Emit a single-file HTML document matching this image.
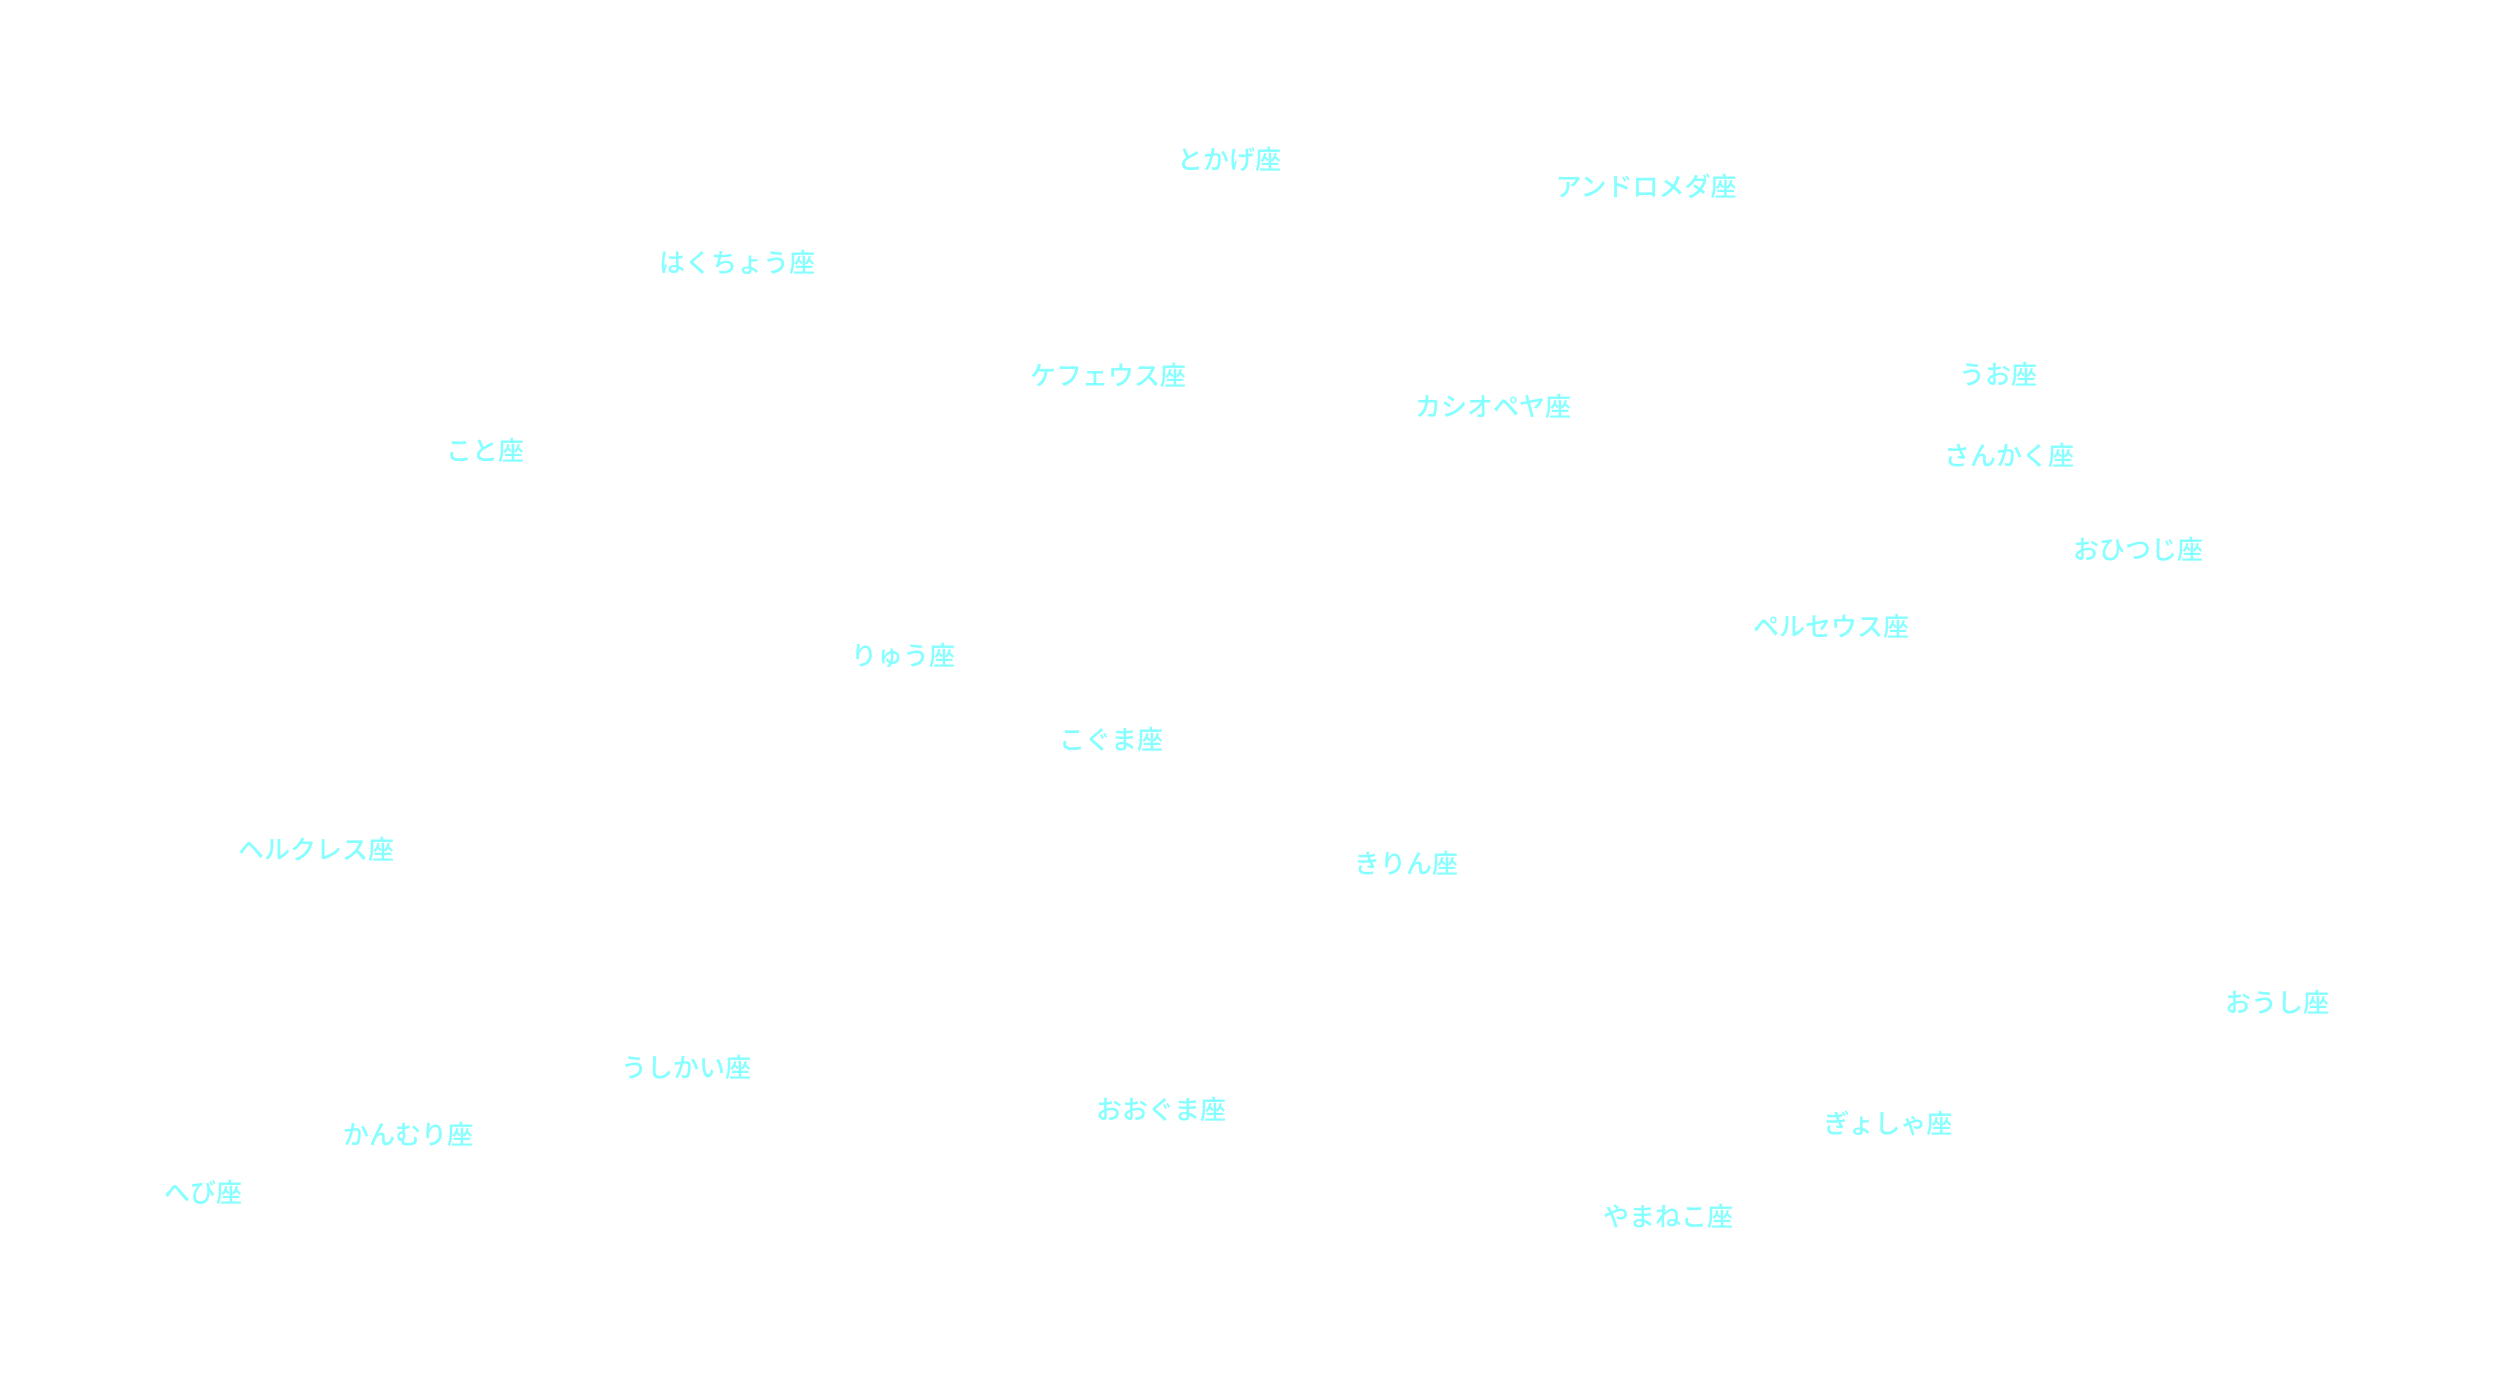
<!DOCTYPE html>
<html><head><meta charset="utf-8"><style>
html,body{margin:0;padding:0;background:#fff;}
body{width:2500px;height:1400px;position:relative;overflow:hidden;font-family:"Liberation Sans","Noto Sans CJK JP",sans-serif;}
span{position:absolute;transform:translate(-50%,-50%);font-size:26px;color:#85ffff;white-space:nowrap;line-height:1;font-weight:500;}
</style></head><body>
<span style="left:1229px;top:160px">とかげ座</span>
<span style="left:1646px;top:187px">アンドロメダ座</span>
<span style="left:737px;top:263px">はくちょう座</span>
<span style="left:1108px;top:376px">ケフェウス座</span>
<span style="left:1493px;top:407px">カシオペヤ座</span>
<span style="left:1998px;top:375px">うお座</span>
<span style="left:2009px;top:456px">さんかく座</span>
<span style="left:485px;top:451px">こと座</span>
<span style="left:2138px;top:550px">おひつじ座</span>
<span style="left:1831px;top:627px">ペルセウス座</span>
<span style="left:903px;top:656px">りゅう座</span>
<span style="left:1111px;top:740px">こぐま座</span>
<span style="left:316px;top:850px">ヘルクレス座</span>
<span style="left:1406px;top:864px">きりん座</span>
<span style="left:2277px;top:1003px">おうし座</span>
<span style="left:686px;top:1068px">うしかい座</span>
<span style="left:1161px;top:1110px">おおぐま座</span>
<span style="left:1888px;top:1124px">ぎょしゃ座</span>
<span style="left:408px;top:1135px">かんむり座</span>
<span style="left:203px;top:1193px">へび座</span>
<span style="left:1668px;top:1217px">やまねこ座</span>
</body></html>
